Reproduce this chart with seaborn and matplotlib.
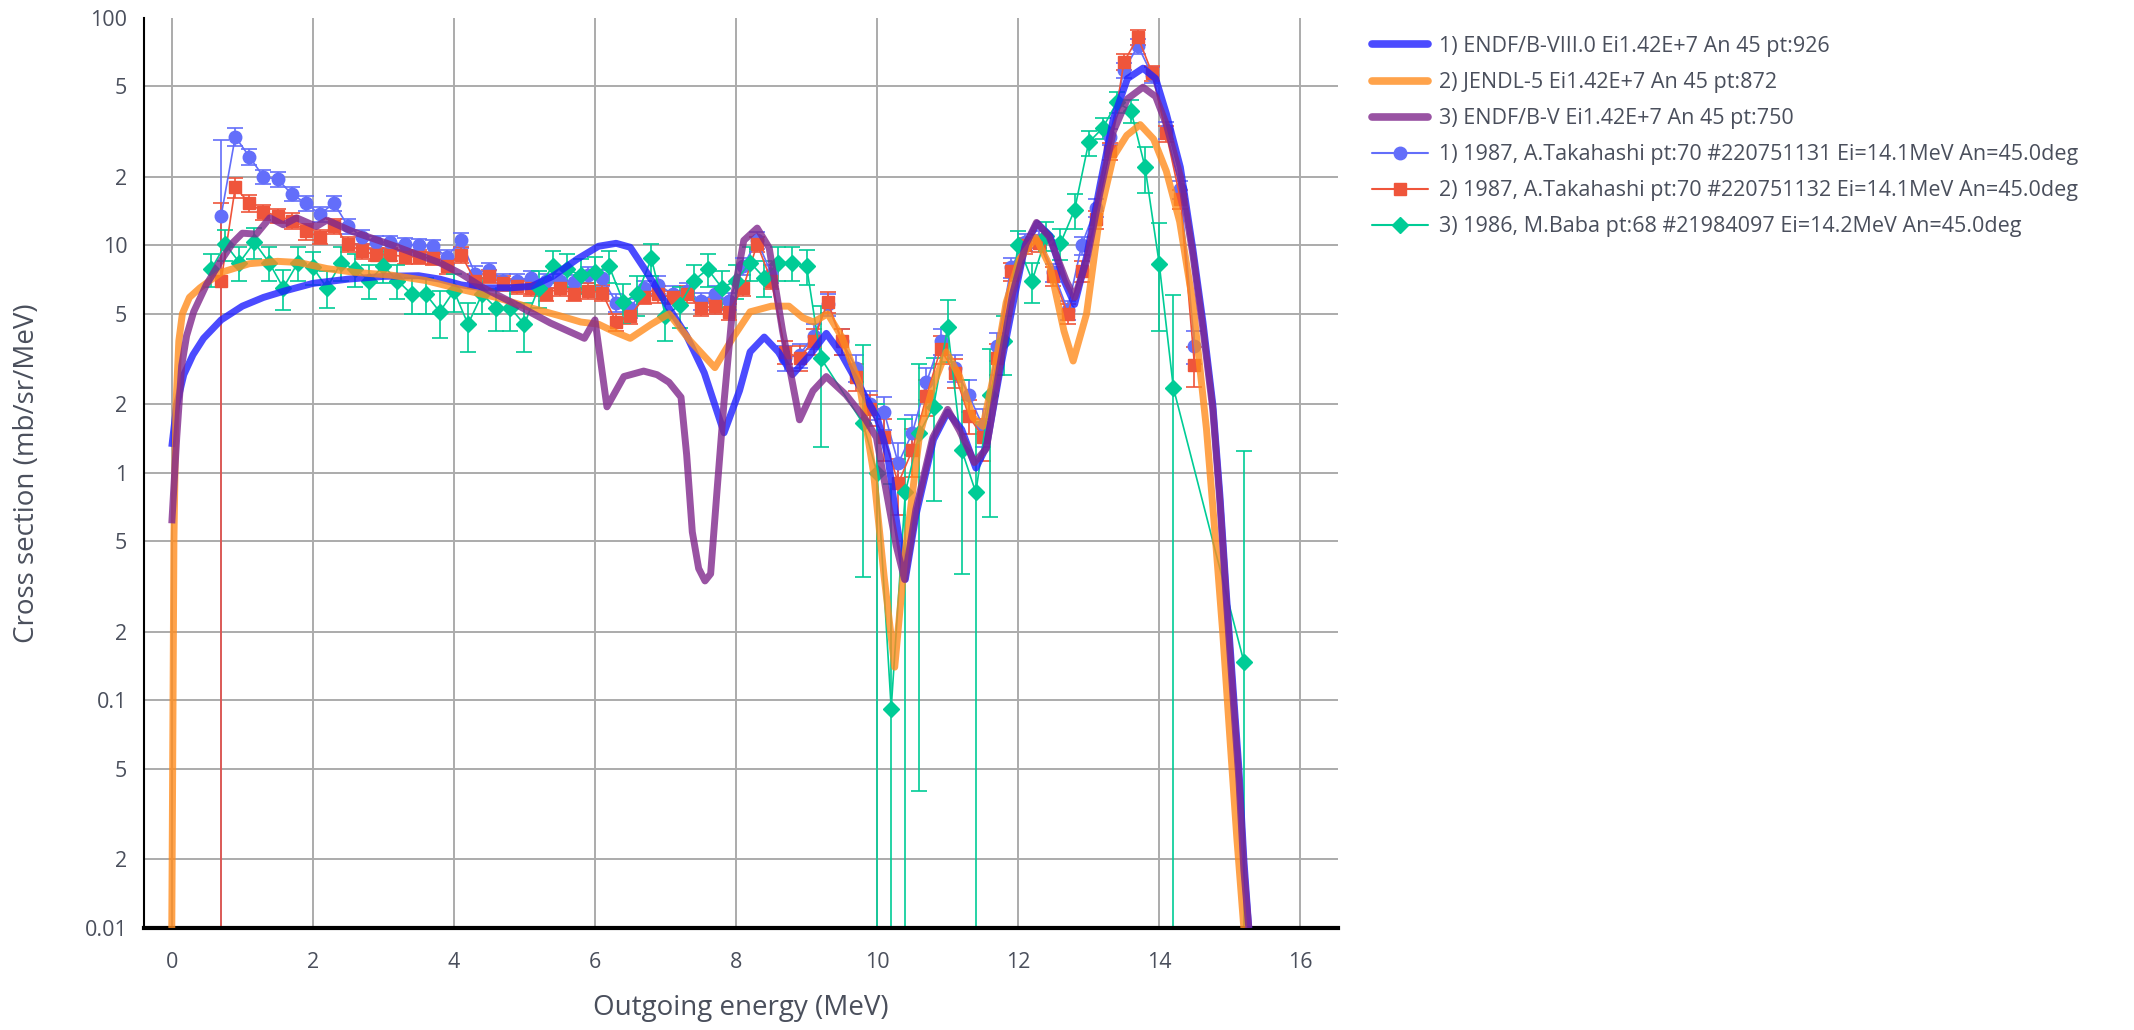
import numpy as np
import pandas as pd
import matplotlib
matplotlib.use('Agg')
import matplotlib.pyplot as plt
import seaborn as sns
from matplotlib.lines import Line2D
from matplotlib.ticker import FixedLocator, FixedFormatter, NullLocator

# ---------------- data ----------------
endf8_x = [0.0, 0.07, 0.17, 0.3, 0.45, 0.7, 1.0, 1.3, 1.6, 2.0, 2.5, 3.0, 3.5, 3.8, 4.1, 4.4, 4.8, 5.1, 5.4, 5.75,
           6.05, 6.3, 6.5, 6.7, 7.0, 7.3, 7.55, 7.83, 8.05, 8.2, 8.4, 8.6, 8.8, 9.05, 9.28, 9.5, 9.75, 10.0, 10.15, 10.28,
           10.4, 10.55, 10.8, 11.0, 11.2, 11.4, 11.55, 11.75, 11.95, 12.1, 12.27, 12.45, 12.65, 12.8, 12.97, 13.16, 13.35,
           13.55, 13.77, 13.95, 14.1, 14.3, 14.48, 14.62, 14.76, 14.86, 14.95, 15.05, 15.13, 15.2, 15.27]
endf8_y = [1.3, 2.0, 2.7, 3.3, 3.9, 4.7, 5.4, 5.9, 6.3, 6.8, 7.1, 7.3, 7.35, 7.1, 6.7, 6.5, 6.5, 6.6, 7.3, 8.7,
           9.9, 10.2, 9.8, 7.9, 5.6, 4.0, 2.75, 1.5, 2.3, 3.4, 3.95, 3.4, 2.7, 3.3, 4.1, 3.3, 2.4, 1.75, 1.2, 0.6,
           0.34, 0.65, 1.4, 1.85, 1.55, 1.05, 1.3, 2.9, 6.0, 10.0, 12.5, 11.0, 7.0, 5.5, 8.9, 18.3, 36,
           54, 60, 54, 38, 22, 9.5, 4.6, 2.0, 0.8, 0.3, 0.11, 0.05, 0.02, 0.01]

jendl_x = [0.0, 0.03, 0.06, 0.1, 0.15, 0.25, 0.4, 0.7, 1.1, 1.5, 1.8, 2.2, 2.6, 3.1, 3.6, 4.1, 4.6, 5.1, 5.5, 5.8,
           6.05, 6.25, 6.5, 6.8, 7.05, 7.35, 7.7, 7.95, 8.2, 8.5, 8.75, 8.95, 9.1, 9.3, 9.5, 9.75, 9.95, 10.1, 10.25, 10.4,
           10.6, 10.8, 10.98, 11.17, 11.36, 11.5, 11.65, 11.83, 12.02, 12.25, 12.45, 12.65, 12.78, 12.97, 13.16, 13.35,
           13.54, 13.73, 13.92, 14.1, 14.29, 14.48, 14.67, 14.8, 14.9, 15.0, 15.1, 15.2]
jendl_y = [0.01, 0.5, 2.0, 3.8, 5.0, 5.9, 6.5, 7.6, 8.3, 8.5, 8.4, 7.9, 7.6, 7.4, 7.0, 6.4, 5.9, 5.3, 4.9, 4.6,
           4.5, 4.2, 3.9, 4.5, 5.0, 3.8, 2.9, 3.9, 5.1, 5.4, 5.4, 4.8, 4.6, 5.0, 3.95, 2.45, 1.0, 0.35, 0.14, 0.45,
           1.45, 2.45, 3.4, 2.65, 1.75, 1.6, 2.65, 5.6, 8.7, 10.8, 8.1, 4.2, 3.1, 5.0, 13.7, 24.5,
           30.4, 33.9, 29.3, 21.2, 12.7, 5.5, 1.56, 0.5, 0.2, 0.07, 0.025, 0.01]

endf5_x = [0.0, 0.07, 0.14, 0.21, 0.31, 0.49, 0.68, 0.87, 1.0, 1.2, 1.39, 1.58, 1.77, 2.05, 2.2, 2.56, 3.13, 3.79, 4.1, 4.42,
           4.9, 5.37, 5.85, 6.0, 6.17, 6.41, 6.69, 6.88, 7.05, 7.22, 7.3, 7.38, 7.47, 7.56, 7.64, 7.73, 7.83, 7.97, 8.11, 8.3,
           8.47, 8.66, 8.9, 9.09, 9.28, 9.56, 9.84, 9.99, 10.13, 10.27, 10.39, 10.55, 10.79, 11.0, 11.17, 11.38, 11.55, 11.74,
           11.92, 12.11, 12.26, 12.44, 12.68, 12.8, 12.97, 13.16, 13.35, 13.55, 13.77, 13.95, 14.1, 14.3, 14.48, 14.62,
           14.76, 14.86, 14.95, 15.05, 15.13, 15.2, 15.27]
endf5_y = [0.6, 1.43, 2.95, 4.0, 5.1, 6.7, 8.4, 10.3, 11.3, 11.2, 13.2, 12.3, 13.2, 12.1, 12.9, 11.5, 10.0, 8.4, 7.5, 6.5,
           5.45, 4.55, 3.9, 4.7, 1.95, 2.65, 2.8, 2.7, 2.5, 2.15, 1.2, 0.55, 0.38, 0.335, 0.36, 0.83, 2.05, 6.1, 10.5, 11.9,
           9.75, 4.2, 1.71, 2.29, 2.65, 2.2, 1.71, 1.43, 0.83, 0.48, 0.34, 0.69, 1.43, 1.9, 1.53, 1.11, 1.28, 2.95,
           6.1, 10.1, 12.6, 10.9, 7.0, 5.9, 8.5, 17, 31.6, 44, 49.5, 45, 34, 20, 9, 4.3,
           1.9, 0.75, 0.28, 0.1, 0.045, 0.018, 0.01]

tak_x = [0.7, 0.9, 1.1, 1.3, 1.5, 1.7, 1.9, 2.1, 2.3, 2.5, 2.7, 2.9, 3.1, 3.3, 3.5, 3.7, 3.9, 4.1, 4.3, 4.5,
         4.7, 4.9, 5.1, 5.3, 5.5, 5.7, 5.9, 6.1, 6.3, 6.5, 6.7, 6.9, 7.1, 7.3, 7.5, 7.7, 7.9, 8.1, 8.3, 8.5,
         8.7, 8.9, 9.1, 9.3, 9.5, 9.7, 9.9, 10.1, 10.3, 10.5, 10.7, 10.9, 11.1, 11.3, 11.5, 11.7, 11.9, 12.1, 12.3, 12.5,
         12.7, 12.9, 13.1, 13.3, 13.5, 13.7, 13.9, 14.1, 14.3, 14.5]
tak1_y = [13.5, 30, 24.5, 20, 19.5, 16.8, 15.3, 13.7, 15.3, 12.1,
          10.9, 10.3, 10.3, 10.1, 10.0, 9.9, 8.9, 10.5, 7.5, 7.8,
          7.0, 7.0, 7.2, 7.0, 7.0, 6.9, 7.4, 7.2, 5.6, 5.3,
          6.5, 6.7, 6.1, 6.3, 5.7, 6.1, 5.7, 8.1, 10.5, 7.5,
          3.2, 3.3, 4.0, 5.5, 3.8, 2.9, 2.0, 1.85, 1.1, 1.5,
          2.5, 3.8, 2.9, 2.2, 1.6, 3.6, 8.0, 10.3, 10.6, 7.6,
          5.2, 10.0, 14.6, 30, 59, 75, 56, 32, 17.6, 3.6]
tak1_err = [15.5, 2.8, 2.0, 1.5, 1.4, 1.2, 1.1, 1.0, 1.1, 0.9,
            0.8, 0.7, 0.7, 0.7, 0.7, 0.7, 0.6, 0.8, 0.6, 0.6,
            0.5, 0.5, 0.5, 0.5, 0.5, 0.5, 0.6, 0.6, 0.5, 0.5,
            0.5, 0.6, 0.5, 0.5, 0.5, 0.5, 0.5, 0.7, 0.9, 0.7,
            0.4, 0.4, 0.5, 0.6, 0.5, 0.4, 0.3, 0.3, 0.25, 0.3,
            0.4, 0.5, 0.4, 0.35, 0.3, 0.5, 0.8, 0.9, 0.9, 0.7,
            0.5, 0.9, 1.3, 2.5, 4.5, 5.5, 4.5, 2.8, 1.6, 0.6]
tak2_y = [7.0, 18, 15.3, 14.0, 13.5, 12.8, 11.5, 10.9, 12.1, 10.1,
          9.4, 9.1, 9.1, 8.9, 8.9, 8.75, 8.1, 9.1, 7.0, 7.3,
          6.8, 6.6, 6.5, 6.1, 6.5, 6.1, 6.3, 6.2, 4.6, 4.9,
          5.9, 6.1, 5.9, 6.1, 5.3, 5.4, 5.1, 6.5, 10.1, 7.0,
          3.4, 3.2, 3.8, 5.65, 3.8, 2.65, 1.9, 1.43, 0.9, 1.26,
          2.17, 3.5, 2.75, 1.78, 1.43, 3.2, 7.7, 10.0, 10.2, 7.3,
          5.0, 7.7, 13.0, 26, 64, 82, 57, 31, 16, 2.98]
tak2_err = [8.3, 1.8, 1.3, 1.1, 1.0, 1.0, 0.9, 0.8, 0.9, 0.8,
            0.7, 0.6, 0.6, 0.6, 0.6, 0.6, 0.6, 0.7, 0.5, 0.5,
            0.5, 0.5, 0.5, 0.4, 0.5, 0.4, 0.5, 0.5, 0.4, 0.4,
            0.4, 0.5, 0.4, 0.5, 0.4, 0.4, 0.4, 0.5, 0.8, 0.6,
            0.4, 0.4, 0.5, 0.6, 0.5, 0.35, 0.3, 0.3, 0.25, 0.3,
            0.4, 0.5, 0.4, 0.3, 0.3, 0.5, 0.7, 0.8, 0.9, 0.7,
            0.5, 0.8, 1.2, 2.2, 5.0, 6.0, 4.5, 2.5, 1.5, 0.6]

baba_x = [0.56, 0.76, 0.96, 1.17, 1.38, 1.58, 1.79, 2.0, 2.2, 2.4,
          2.6, 2.8, 3.0, 3.2, 3.4, 3.6, 3.8, 4.0, 4.2, 4.4,
          4.6, 4.8, 5.0, 5.2, 5.4, 5.6, 5.8, 6.0, 6.2, 6.4,
          6.6, 6.8, 7.0, 7.2, 7.4, 7.6, 7.8, 8.0, 8.2, 8.4,
          8.6, 8.8, 9.0, 9.2,
          9.8, 10.0, 10.2, 10.4, 10.6, 10.8, 11.0, 11.2, 11.4, 11.6,
          11.8, 12.0, 12.2, 12.4, 12.6, 12.8, 13.0, 13.2, 13.4, 13.6,
          13.8, 14.0, 14.2, 15.2]
baba_y = [7.85, 10.1, 8.4, 10.3, 8.4, 6.5, 8.4, 8.0, 6.5, 8.4,
          7.85, 7.0, 8.1, 7.0, 6.1, 6.1, 5.1, 6.3, 4.5, 6.1,
          5.3, 5.3, 4.5, 6.5, 8.1, 7.85, 7.4, 7.6, 8.1, 5.65,
          6.1, 8.75, 4.9, 5.45, 7.0, 7.85, 6.5, 7.0, 8.4, 7.2,
          8.4, 8.4, 8.1, 3.2,
          1.65, 1.0, 0.092, 0.82, 1.5, 1.95, 4.36, 1.26, 0.82, 2.2,
          3.8, 10.0, 7.0, 11.0, 10.2, 14.3, 28.3, 32.8, 42.5, 39,
          22, 8.3, 2.37, 0.148]
baba_err_lo = [1.3, 1.6, 1.4, 1.6, 1.4, 1.3, 1.4, 1.3, 1.2, 1.4,
               1.3, 1.2, 1.3, 1.2, 1.1, 1.1, 1.2, 1.2, 1.1, 1.1,
               1.1, 1.1, 1.1, 1.2, 1.3, 1.3, 1.3, 1.3, 1.3, 1.1,
               1.2, 1.4, 1.1, 1.1, 1.2, 1.3, 1.2, 1.2, 1.4, 1.3,
               1.4, 1.4, 1.4, 1.9,
               1.3, 1.0, 0.092, 0.82, 1.46, 1.2, 1.3, 0.9, 0.82, 1.56,
               1.1, 1.6, 1.4, 1.6, 1.6, 2.5, 3.5, 3.5, 4.5, 4.5,
               5.0, 4.1, 2.37, 0.148]
baba_err_hi = [1.3, 1.6, 1.4, 1.6, 1.4, 1.3, 1.4, 1.3, 1.2, 1.4,
               1.3, 1.2, 1.3, 1.2, 1.1, 1.1, 1.2, 1.2, 1.1, 1.1,
               1.1, 1.1, 1.1, 1.2, 1.3, 1.3, 1.3, 1.3, 1.3, 1.1,
               1.2, 1.4, 1.1, 1.1, 1.2, 1.3, 1.2, 1.2, 1.4, 1.3,
               1.4, 1.4, 1.4, 2.2,
               2.0, 1.0, 0.8, 0.9, 1.5, 1.25, 1.4, 1.3, 0.85, 1.3,
               1.1, 1.6, 1.4, 1.6, 1.6, 2.5, 3.5, 3.5, 4.5, 4.5,
               5.0, 4.2, 3.7, 1.1]

curve_labels = ["1) ENDF/B-VIII.0 Ei1.42E+7 An 45 pt:926",
                "2) JENDL-5 Ei1.42E+7 An 45 pt:872",
                "3) ENDF/B-V Ei1.42E+7 An 45 pt:750"]
data_labels = ["1) 1987, A.Takahashi pt:70 #220751131 Ei=14.1MeV An=45.0deg",
               "2) 1987, A.Takahashi pt:70 #220751132 Ei=14.1MeV An=45.0deg",
               "3) 1986, M.Baba pt:68 #21984097 Ei=14.2MeV An=45.0deg"]

y_ticks = [100, 50, 20, 10, 5, 2, 1, 0.5, 0.2, 0.1, 0.05, 0.02, 0.01]
y_tick_labels = ["100", "5", "2", "10", "5", "2", "1", "5", "2", "0.1", "5", "2", "0.01"]
x_ticks = [0, 2, 4, 6, 8, 10, 12, 14, 16]

# ---------------- style ----------------
curve_colors = ["#1e1eff", "#ff8c1e", "#80288c"]
data_colors = ["#636efa", "#ef553b", "#00cc96"]
text_col = "#4a4f5c"

sns.set_theme(style="white")
plt.rcParams['font.family'] = ['Open Sans', 'DejaVu Sans']

W, H = 2134, 1030
fig = plt.figure(figsize=(W / 100, H / 100), dpi=100)
ax_l, ax_r, ax_t, ax_b = 144, 1338, 17.7, 928
ax = fig.add_axes([ax_l / W, 1 - ax_b / H, (ax_r - ax_l) / W, (ax_b - ax_t) / H])
ax.set_yscale('log')
ax.set_xlim(-0.394, 16.535)
ax.set_ylim(0.01, 100)

# grid
grid_col = "#ababab"
for v in y_ticks:
    if v in (100, 0.01):
        continue
    ax.axhline(v, color=grid_col, lw=1.4, zorder=0)
for v in x_ticks:
    ax.axvline(v, color=grid_col, lw=1.4, zorder=0)

# experimental data
markers = ['o', 's', 'D']
msizes = [9, 8.5, 8.5]
exp_sets = [(tak_x, tak1_y, [tak1_err, tak1_err]),
            (tak_x, tak2_y, [tak2_err, tak2_err]),
            (baba_x, baba_y, [baba_err_lo, baba_err_hi])]
for (xs, ys, err), c, m, ms in zip(exp_sets, data_colors, markers, msizes):
    ax.errorbar(xs, ys, yerr=err, fmt='-' + m, color=c, lw=1.2, ms=ms,
                mec=c, mfc=c, elinewidth=1.2, capsize=5.5, capthick=1.2, zorder=2)

# evaluated curves via seaborn
curves = [(endf8_x, endf8_y), (jendl_x, jendl_y), (endf5_x, endf5_y)]
for (xs, ys), c, lab in zip(curves, curve_colors, curve_labels):
    df = pd.DataFrame({"E": xs, "xs": ys})
    sns.lineplot(data=df, x="E", y="xs", sort=False, estimator=None, color=c,
                 lw=5, alpha=0.8, ax=ax, zorder=3, solid_joinstyle='round',
                 solid_capstyle='butt')

# axes styling
for s in ['top', 'right']:
    ax.spines[s].set_visible(False)
ax.spines['left'].set_color('black')
ax.spines['left'].set_linewidth(1.5)
ax.spines['bottom'].set_color('black')
ax.spines['bottom'].set_linewidth(3)

ax.yaxis.set_major_locator(FixedLocator(y_ticks))
ax.yaxis.set_major_formatter(FixedFormatter(y_tick_labels))
ax.yaxis.set_minor_locator(NullLocator())
ax.xaxis.set_major_locator(FixedLocator(x_ticks))
ax.set_xticklabels([str(v) for v in x_ticks])
ax.tick_params(axis='both', which='major', direction='out', length=9, width=1.3,
               color='black', labelsize=15.5, labelcolor=text_col)
ax.tick_params(axis='y', pad=3)
ax.tick_params(axis='x', pad=8)
ax.grid(False)

ax.set_xlabel("Outgoing energy (MeV)", fontsize=20, color=text_col)
ax.set_ylabel("Cross section (mb/sr/MeV)", fontsize=20, color=text_col)
ax.xaxis.set_label_coords(0.5, -0.072)
ax.yaxis.set_label_coords(-0.086, 0.5)

# legend
handles = [Line2D([], [], color=c, lw=5.5, alpha=0.8) for c in curve_colors]
handles += [Line2D([], [], color=c, lw=1.5, marker=m, ms=ms, mfc=c, mec=c)
            for c, m, ms in zip(data_colors, markers, msizes)]
leg = fig.legend(handles, curve_labels + data_labels, loc='upper left',
                 bbox_to_anchor=(1372 / W, 1 - 36 / H), frameon=False,
                 fontsize=15.5, handlelength=2.6, handletextpad=0.5,
                 labelspacing=0.7, borderpad=0, borderaxespad=0)
for t in leg.get_texts():
    t.set_color(text_col)

fig.savefig("out.png", dpi=100)
